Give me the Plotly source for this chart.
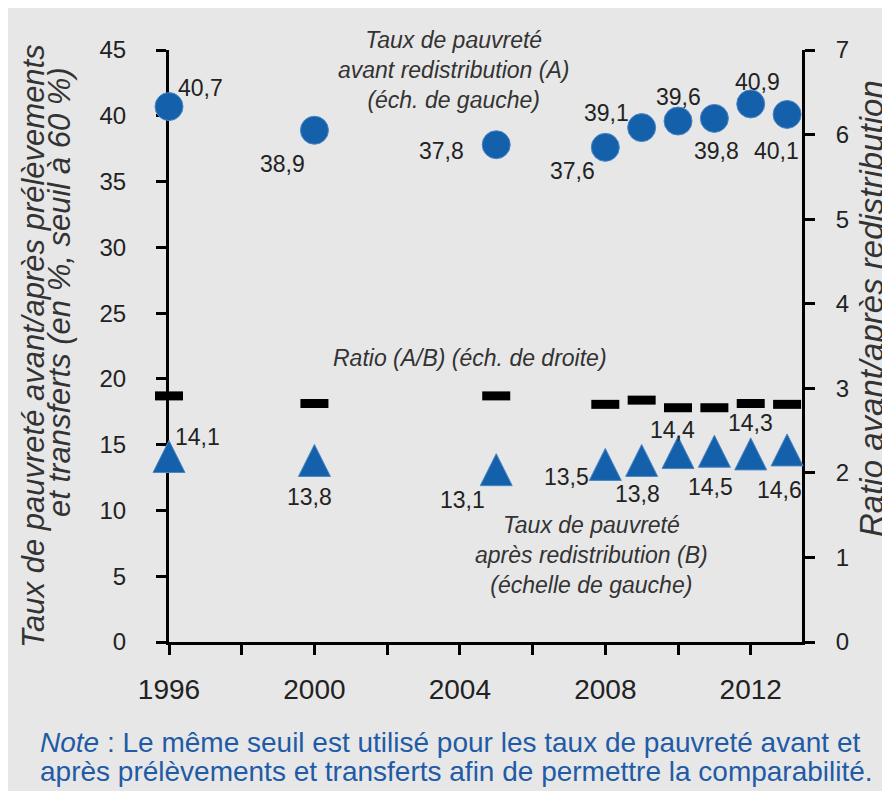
import plotly.graph_objects as go

# ---------------- data ----------------
years = [1996, 2000, 2005, 2008, 2009, 2010, 2011, 2012, 2013]
taux_avant = [40.7, 38.9, 37.8, 37.6, 39.1, 39.6, 39.8, 40.9, 40.1]
taux_apres = [14.1, 13.8, 13.1, 13.5, 13.8, 14.4, 14.5, 14.3, 14.6]
ratio = [2.91, 2.82, 2.91, 2.81, 2.86, 2.77, 2.77, 2.82, 2.81]

x_tickvals = [1996, 1998, 2000, 2002, 2004, 2006, 2008, 2010, 2012]
x_ticktext = ["1996", "", "2000", "", "2004", "", "2008", "", "2012"]
y_left_ticks = [0, 5, 10, 15, 20, 25, 30, 35, 40, 45]
y_right_ticks = [0, 1, 2, 3, 4, 5, 6, 7]

def fr(v):
    return f"{v:.1f}".replace(".", ",")

# ---------------- style ----------------
OFF = 8                      # page body margin
W, H = 882, 783
ML, MT = 161, 42
PW, PH = 633, 592
MR, MB = W - ML - PW, H - MT - PH
BG = "#e7e7e7"
BLUE = "#1560aa"
FONT = "Liberation Sans, Arial, sans-serif"
TXT = "#222222"

def px(xs):
    return (xs - OFF - ML) / PW

def py(ys):
    return (MT + PH - (ys - OFF)) / PH

# label offsets (screen px: dx right, dy down)
off_avant = [(31, -19), (-32, 34), (-55, 6), (-33, 24), (-35, -15), (0, -24), (2, 33), (7, -22), (-11, 37)]
off_apres = [(28, -20), (-5, 37), (-34, 30), (-39, 13), (-4, 34), (-6, -23), (-4, 36), (0, -31), (-8, 40)]

fig = go.Figure()

fig.add_trace(go.Scatter(
    x=years, y=ratio, yaxis="y2", mode="markers", cliponaxis=False,
    marker=dict(symbol="line-ew", size=20, line=dict(color="black", width=9), color="black"),
    showlegend=False, hoverinfo="skip"))

fig.add_trace(go.Scatter(
    x=years, y=taux_avant, mode="markers", cliponaxis=False,
    marker=dict(symbol="circle", size=28, color=BLUE, line=dict(color="#4a86c4", width=1)),
    showlegend=False))

fig.add_trace(go.Scatter(
    x=years, y=taux_apres, mode="markers", cliponaxis=False,
    marker=dict(symbol="arrow-down", angle=180, size=32, standoff=16, color=BLUE,
                line=dict(color="#4a86c4", width=1)),
    showlegend=False))

ann = []
for x, v, (dx, dy) in zip(years, taux_avant, off_avant):
    ann.append(dict(x=x, y=v, xref="x", yref="y", text=fr(v), showarrow=False,
                    xanchor="center", yanchor="middle",
                    xshift=dx, yshift=-dy, font=dict(family=FONT, size=23, color=TXT)))
for x, v, (dx, dy) in zip(years, taux_apres, off_apres):
    ann.append(dict(x=x, y=v, xref="x", yref="y", text=fr(v), showarrow=False,
                    xanchor="center", yanchor="middle",
                    xshift=dx, yshift=-dy, font=dict(family=FONT, size=23, color=TXT)))

ital = dict(family=FONT, size=23, color="#333333", style="italic")
def note(xs, ys, text, font, angle=0, xanchor="center"):
    return dict(x=px(xs), y=py(ys), xref="paper", yref="paper", showarrow=False,
                xanchor=xanchor, yanchor="middle", textangle=angle, text=text,
                font=font, align="center")

ann.append(note(453, 70, "Taux de pauvreté<br>avant redistribution (A)<br>(éch. de gauche)", ital))
ann.append(note(470, 358, "Ratio (A/B) (éch. de droite)", ital))
ann.append(note(591, 555, "Taux de pauvreté<br>après redistribution (B)<br>(échelle de gauche)", ital))

title_font = dict(family=FONT, size=31, color="#333333", style="italic")
ann.append(note(33, 346, "Taux de pauvreté avant/après prélèvements", title_font, angle=-90))
ann.append(note(59, 292, "et transferts (en %, seuil à 60 %)", title_font, angle=-90))
ann.append(note(871, 308, "Ratio avant/après redistribution",
                dict(family=FONT, size=33, color="#333333", style="italic"), angle=-90))

note_font = dict(family=FONT, size=28, color="#1f5ba6")
ann.append(note(38, 742, "<i>Note</i> : Le même seuil est utilisé pour les taux de pauvreté avant et",
                note_font, xanchor="left"))
ann.append(note(38, 771, "après prélèvements et transferts afin de permettre la comparabilité.",
                note_font, xanchor="left"))

axis_common = dict(showline=True, linecolor="black", linewidth=3, ticks="outside",
                   ticklen=10, tickwidth=3, tickcolor="black", showgrid=False,
                   zeroline=False, layer="below traces")

fig.update_layout(
    width=W, height=H,
    margin=dict(l=ML, r=MR, t=MT, b=MB),
    paper_bgcolor=BG, plot_bgcolor=BG,
    showlegend=False,
    xaxis=dict(range=[1996, 2013.41], tickvals=x_tickvals, ticktext=x_ticktext,
               tickfont=dict(family=FONT, size=28, color=TXT), ticklabelstandoff=10,
               **axis_common),
    yaxis=dict(range=[0, 45], tickvals=y_left_ticks,
               tickfont=dict(family=FONT, size=24, color=TXT), ticklabelstandoff=25,
               **axis_common),
    yaxis2=dict(range=[0, 7], tickvals=y_right_ticks, overlaying="y", side="right",
                tickfont=dict(family=FONT, size=24, color=TXT), ticklabelstandoff=16,
                **axis_common),
    annotations=ann,
)

fig.write_html("out.html")
